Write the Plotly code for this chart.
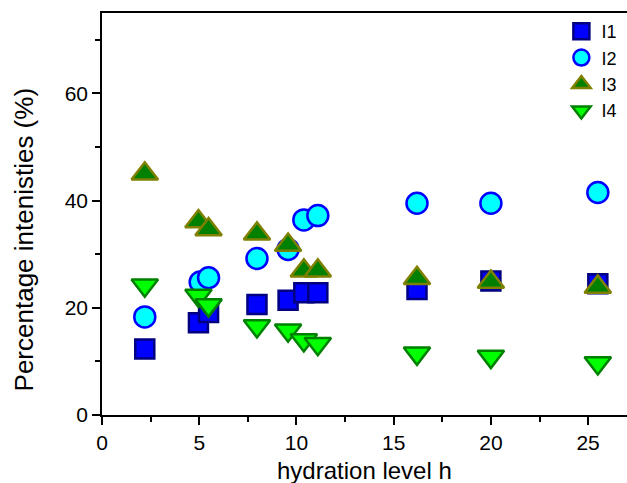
import plotly.graph_objects as go

h1 = [2.2, 4.96, 5.48, 7.97, 9.57, 10.38, 11.1, 16.2, 20.0, 25.5]
I1 = [12.3, 17.2, 19.1, 20.6, 21.4, 22.8, 22.8, 23.4, 25.0, 24.5]

h2 = [2.2, 5.05, 5.48, 7.97, 9.57, 10.38, 11.1, 16.2, 20.0, 25.5]
I2 = [18.3, 24.8, 25.6, 29.2, 30.9, 36.4, 37.2, 39.5, 39.5, 41.5]

h3 = [2.2, 4.96, 5.48, 7.97, 9.57, 10.38, 11.1, 16.2, 20.0, 25.5]
I3 = [45.0, 36.1, 34.6, 33.8, 31.7, 26.9, 26.9, 25.5, 24.8, 23.9]

h4 = [2.2, 4.96, 5.48, 7.97, 9.57, 10.38, 11.1, 16.2, 20.0, 25.5]
I4 = [24.2, 22.3, 20.5, 16.6, 15.8, 14.0, 13.3, 11.5, 10.9, 9.7]

series = [
    ("I1", h1, I1, "square", 19, "#0000FF", "#000080"),
    ("I2", h2, I2, "circle", 21, "#00FFFF", "#0000FF"),
    ("I3", h3, I3, "triangle-up", 23, "#008000", "#808000"),
    ("I4", h4, I4, "triangle-down", 23, "#00FF00", "#008000"),
]

fig = go.Figure()
for name, x, y, sym, size, fill, edge in series:
    fig.add_trace(go.Scatter(
        x=x, y=y, mode="markers", name=name,
        marker=dict(symbol=sym, size=size, color=fill,
                    line=dict(color=edge, width=2.5)),
    ))

font = "Liberation Sans, Arial, sans-serif"
fig.update_layout(
    width=627, height=483,
    margin=dict(l=102, r=0, t=13, b=68, autoexpand=False),
    paper_bgcolor="white", plot_bgcolor="white",
    font=dict(family=font, color="black"),
    showlegend=True,
    legend=dict(x=0.875, xanchor="left", y=1.0, yanchor="top",
                bgcolor="rgba(0,0,0,0)", font=dict(size=18),
                itemwidth=30, tracegroupgap=0),
)
fig.update_xaxes(
    range=[0, 27], tickvals=[0, 5, 10, 15, 20, 25],
    ticks="outside", ticklen=8, tickwidth=1.5, tickcolor="black",
    minor=dict(tickvals=[2.5, 7.5, 12.5, 17.5, 22.5], ticks="outside",
               ticklen=5, tickwidth=1.5, tickcolor="black"),
    showline=True, linecolor="black", linewidth=1.5, mirror=True,
    showgrid=False, zeroline=False, automargin=False,
    tickfont=dict(size=21),
)
fig.update_yaxes(
    range=[0, 75], tickvals=[0, 20, 40, 60],
    ticks="outside", ticklen=8, tickwidth=1.5, tickcolor="black",
    minor=dict(tickvals=[10, 30, 50, 70], ticks="outside",
               ticklen=5, tickwidth=1.5, tickcolor="black"),
    showline=True, linecolor="black", linewidth=1.5,
    showgrid=False, zeroline=False, automargin=False,
    tickfont=dict(size=21),
)
fig.add_annotation(
    text="hydration level h",
    xref="paper", yref="paper", x=0.5, y=-0.1,
    xanchor="center", yanchor="top", showarrow=False,
    font=dict(size=24),
)
fig.add_annotation(
    text="Percentage intenisties (%)", textangle=-90,
    xref="paper", yref="paper", x=-0.148, y=0.435,
    xanchor="center", yanchor="middle", showarrow=False,
    font=dict(size=26),
)

fig.write_html("out.html",
               config={"displayModeBar": False},
               post_script="document.body.style.margin='0';document.body.style.overflow='hidden';")
